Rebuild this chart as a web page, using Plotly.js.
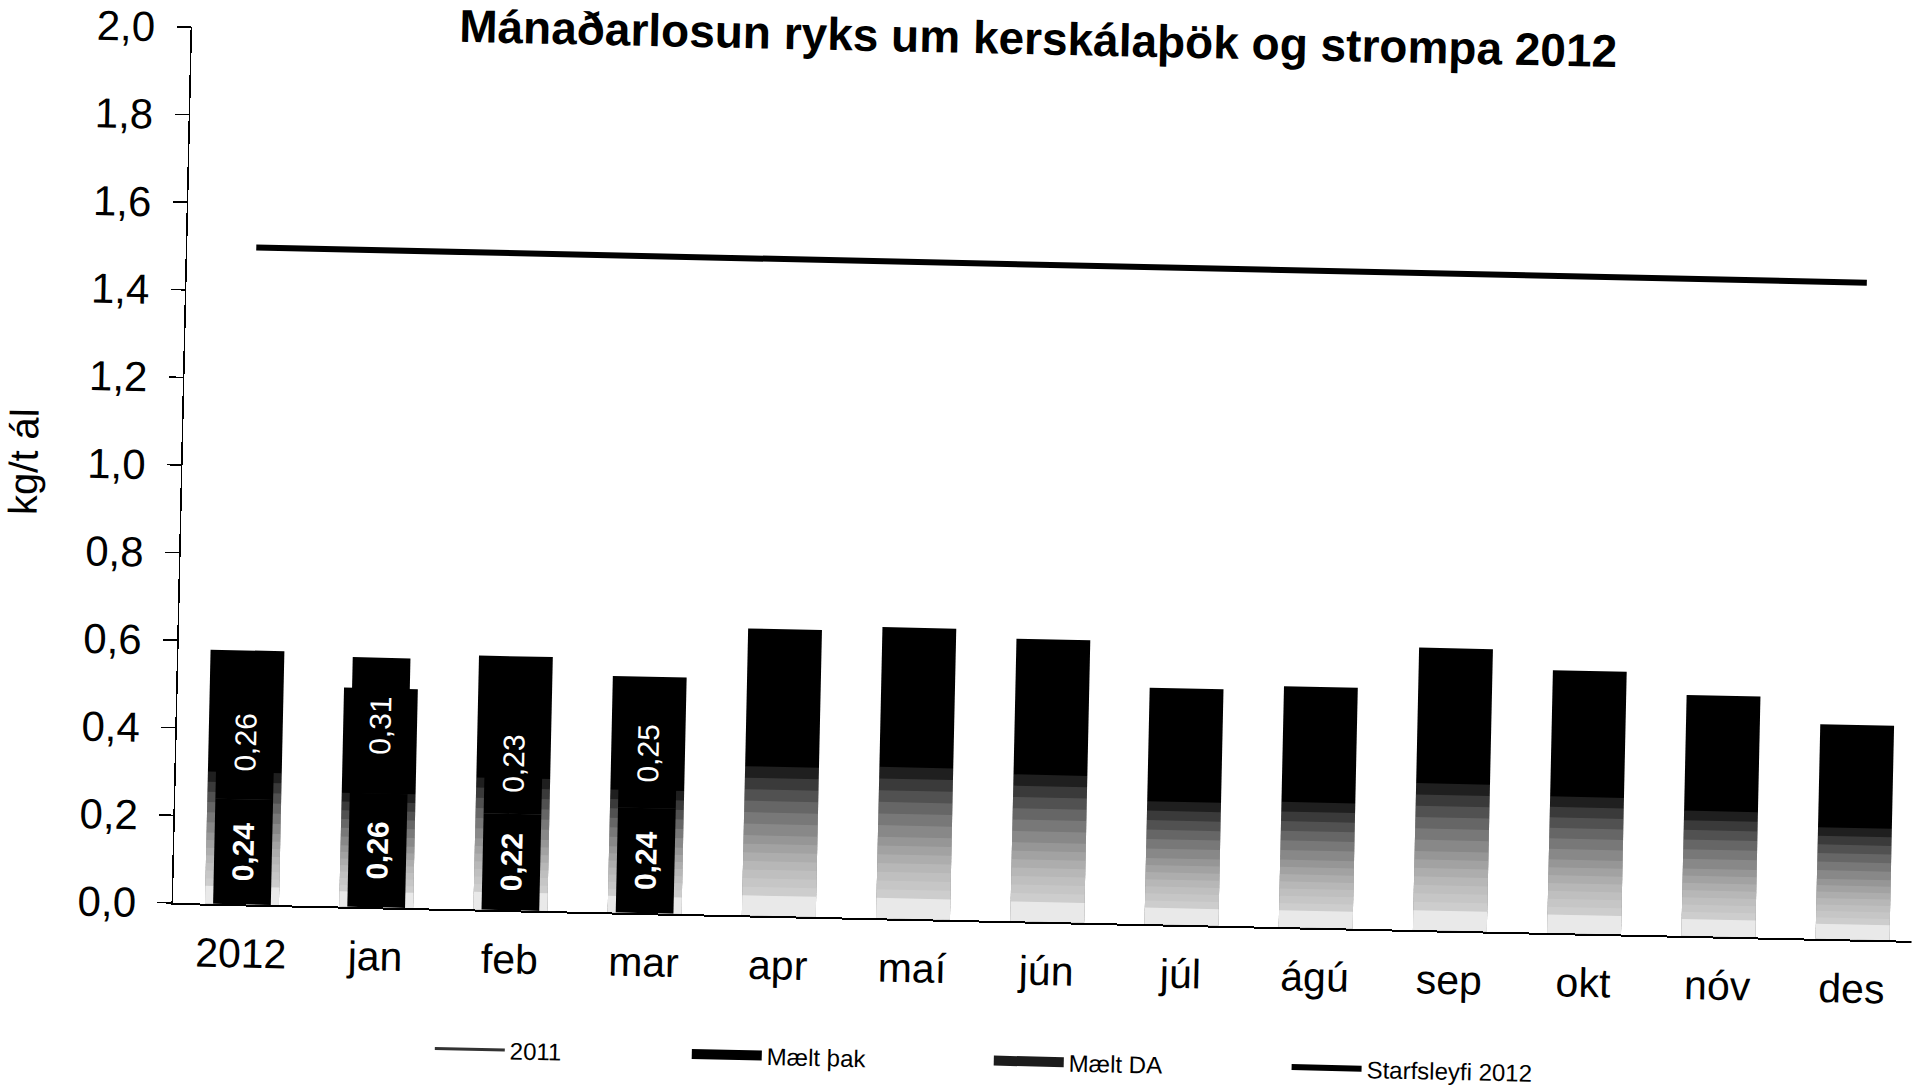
<!DOCTYPE html>
<html>
<head>
<meta charset="utf-8">
<script src="https://cdn.plot.ly/plotly-3.0.1.min.js"></script>
<style>
  html, body { margin: 0; padding: 0; background: #fff; overflow: hidden; }
  #chart { width: 1920px; height: 1087px; transform: rotate(1.25deg); transform-origin: 960px 543px; }
</style>
</head>
<body>
<div id="chart"></div>
<script>
// ---- data ----
const categories = ['2012', 'jan', 'feb', 'mar', 'apr', 'maí', 'jún', 'júl', 'ágú', 'sep', 'okt', 'nóv', 'des'];
const values2011 = [0.58, 0.50, 0.58, 0.54, 0.655, 0.665, 0.645, 0.54, 0.55, 0.645, 0.60, 0.55, 0.49];
const maeltThak = [0.24, 0.26, 0.22, 0.24, null, null, null, null, null, null, null, null, null];
const maeltDA = [0.26, 0.31, 0.23, 0.25, null, null, null, null, null, null, null, null, null];
const starfsleyfi2012 = [1.5, 1.5, 1.5, 1.5, 1.5, 1.5, 1.5, 1.5, 1.5, 1.5, 1.5, 1.5, 1.5];
const yTickVals = [0, 0.2, 0.4, 0.6, 0.8, 1.0, 1.2, 1.4, 1.6, 1.8, 2.0];
const legendNames = ['2011', 'Mælt þak', 'Mælt DA'];

const FONT = 'Liberation Sans, Arial, sans-serif';
const fmt = v => (v == null ? '' : v.toFixed(2).replace('.', ','));

const traces = [];
// legend keys (wide strokes like the original legend keys), one legend box each
const swatchStyle = [
  { color: '#333333', width: 3 },
  { color: '#000000', width: 16 },
  { color: '#1c1c1c', width: 16 }
];
const legendIds = ['legend', 'legend2', 'legend3'];
legendNames.forEach((n, i) => {
  traces.push({
    type: 'scatter', mode: 'lines', name: n, x: [categories[0]], y: [null],
    line: swatchStyle[i], hoverinfo: 'skip', showlegend: true, legend: legendIds[i]
  });
});
// 2011 bars (wide, black at top fading to white at the bottom)
traces.push({
  type: 'bar', name: '2011', x: categories, y: values2011, showlegend: false,
  width: 0.55, marker: { color: '#000000', line: { width: 0 } },
  hoverinfo: 'skip'
});
const fade = [0.52, 0.48, 0.44, 0.40, 0.36, 0.32, 0.28, 0.25, 0.22, 0.19, 0.16, 0.13, 0.10, 0.07];
fade.forEach(f => {
  traces.push({
    type: 'bar', x: categories, y: values2011.map(v => v * f),
    width: 0.55, showlegend: false, hoverinfo: 'skip',
    marker: { color: 'rgba(255,255,255,0.12)', line: { width: 0 } }
  });
});
traces.push({
  type: 'bar', x: categories, y: values2011.map(v => v * 0.07),
  width: 0.55, showlegend: false, hoverinfo: 'skip',
  marker: { color: 'rgba(255,255,255,0.5)', line: { width: 0 } }
});
// Mælt þak (bottom segment, narrow, in front)
traces.push({
  type: 'bar', name: 'Mælt þak', x: categories, y: maeltThak, showlegend: false,
  width: 0.43, marker: { color: '#000000', line: { width: 0 } },
  text: maeltThak.map(fmt), textposition: 'inside', insidetextanchor: 'middle',
  textangle: -90, textfont: { family: FONT, size: 30, color: '#ffffff', weight: 'bold' },
  hoverinfo: 'skip'
});
// Mælt DA (stacked on top of þak)
traces.push({
  type: 'bar', name: 'Mælt DA', x: categories, y: maeltDA, base: maeltThak, showlegend: false,
  width: 0.43, marker: { color: '#000000', line: { width: 0 } },
  text: maeltDA.map(fmt), textposition: 'inside', insidetextanchor: 'middle',
  textangle: -90, textfont: { family: FONT, size: 30, color: '#ffffff' },
  hoverinfo: 'skip'
});
// Starfsleyfi 2012 line
traces.push({
  type: 'scatter', mode: 'lines', name: 'Starfsleyfi 2012', x: categories, y: starfsleyfi2012,
  line: { color: '#000000', width: 6 }, hoverinfo: 'skip', legend: 'legend4'
});

const legendBase = {
  orientation: 'h', xanchor: 'left', y: -0.16, yanchor: 'middle',
  font: { family: FONT, size: 24, color: '#000' },
  itemwidth: 70, bgcolor: 'rgba(0,0,0,0)'
};

const layout = {
  width: 1920, height: 1087,
  paper_bgcolor: '#ffffff', plot_bgcolor: '#ffffff',
  separators: ',.',
  barmode: 'overlay',
  margin: { l: 181, r: 0, t: 44, b: 167 },
  font: { family: FONT, color: '#000000' },
  title: {
    text: 'Mánaðarlosun ryks um kerskálaþök og strompa 2012',
    font: { family: FONT, size: 46, weight: 'bold', color: '#000' },
    xref: 'container', yref: 'container', x: 0.535, xanchor: 'center', y: 0.981, yanchor: 'top'
  },
  xaxis: {
    type: 'category', range: [-0.514, 12.44],
    showline: true, linecolor: '#000', linewidth: 2,
    ticks: '', showgrid: false, zeroline: false,
    tickfont: { family: FONT, size: 41, color: '#000' },
    ticklabelstandoff: 12
  },
  yaxis: {
    range: [0, 2.0], tickvals: yTickVals, tickformat: '.1f',
    showline: true, linecolor: '#000', linewidth: 1.5,
    ticks: 'outside', ticklen: 14, tickwidth: 1.5, tickcolor: '#000',
    showgrid: false, zeroline: false,
    tickfont: { family: FONT, size: 42, color: '#000' },
    ticklabelstandoff: 13,
    title: { text: 'kg/t ál', font: { family: FONT, size: 40, color: '#000' }, standoff: 46 }
  },
  showlegend: true,
  legend: Object.assign({}, legendBase, { x: 0.1495 }),
  legend2: Object.assign({}, legendBase, { x: 0.2973 }),
  legend3: Object.assign({}, legendBase, { x: 0.4710 }),
  legend4: Object.assign({}, legendBase, { x: 0.6423 })
};

Plotly.newPlot('chart', traces, layout, { displayModeBar: false, staticPlot: true });
</script>
</body>
</html>
